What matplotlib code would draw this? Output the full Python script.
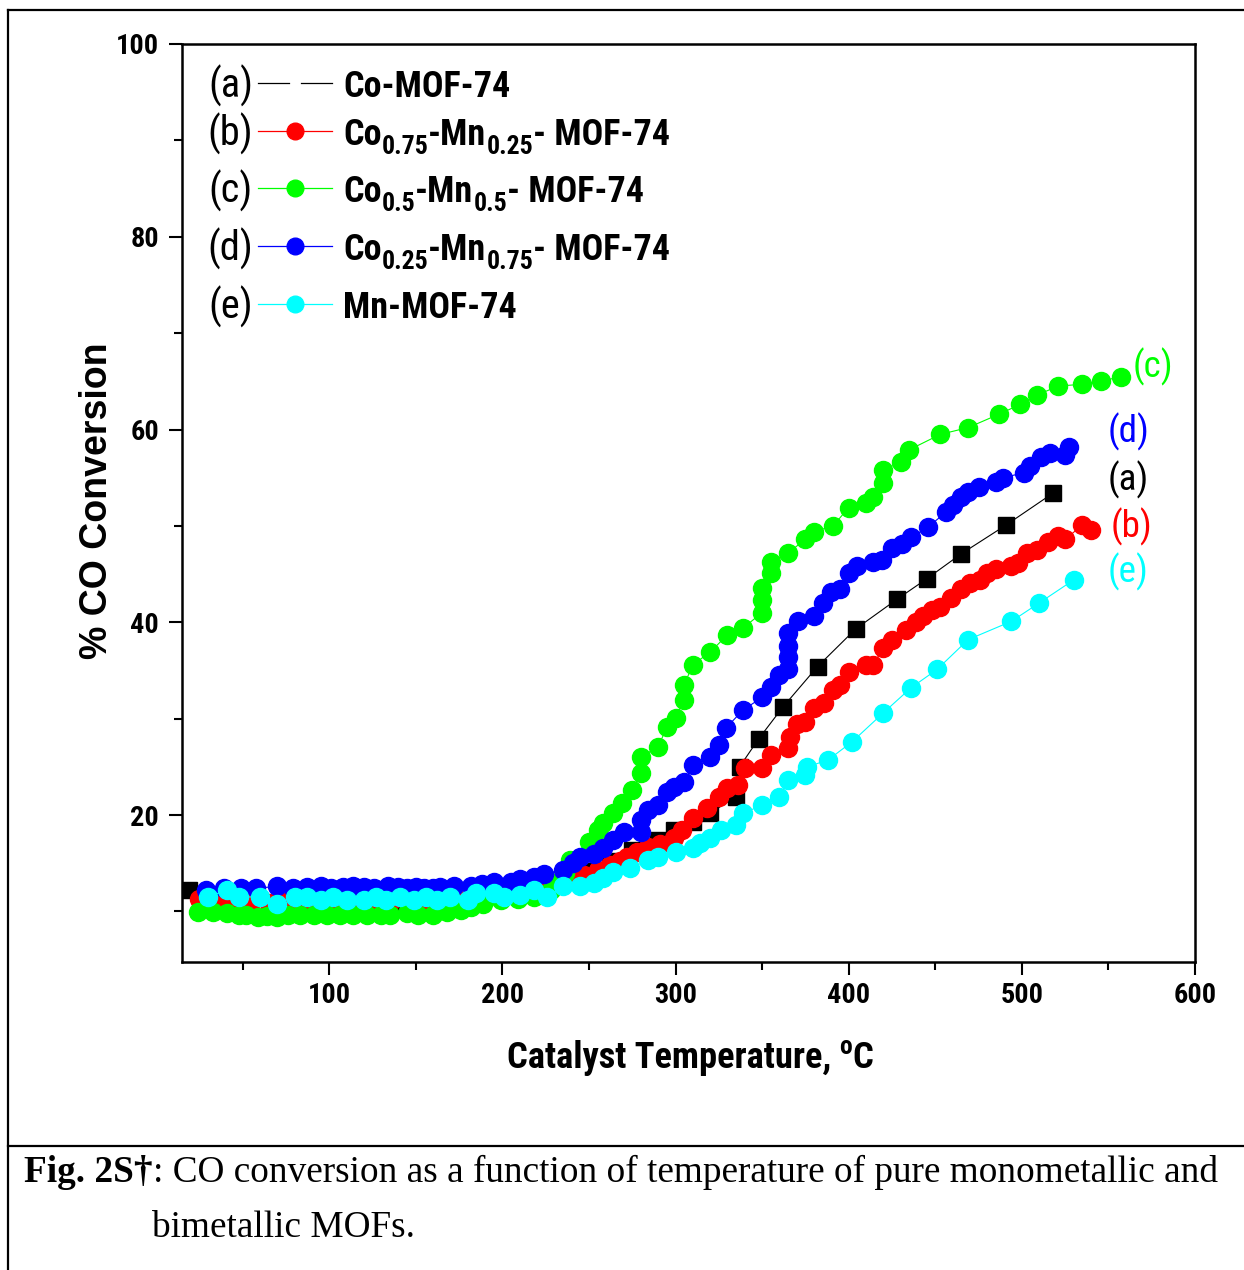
import matplotlib
matplotlib.use("Agg")
import matplotlib.pyplot as plt
from matplotlib import font_manager
from matplotlib.font_manager import FontProperties
from matplotlib.lines import Line2D
from matplotlib.ticker import MultipleLocator

# ---------------- data ----------------
x_a = [19, 65, 141, 200, 230, 250, 262, 275, 290, 299, 310, 320, 335, 337, 348, 362, 382, 404, 428, 445, 465, 491, 518]
y_a = [12.2, 10.5, 10.6, 12.0, 13.0, 14.2, 15.2, 16.4, 17.4, 18.4, 19.3, 20.2, 21.9, 25.0, 27.9, 31.2, 35.4, 39.3, 42.4, 44.5, 47.1, 50.1, 53.4]

x_b = [25, 35, 45, 55, 65, 75, 85, 95, 105, 115, 125, 135, 145, 155, 165, 175, 185, 195, 205, 215,
       222, 230, 238, 247, 255, 262, 268, 272, 278, 284, 291, 299, 304, 310, 318, 325, 330, 336, 340, 350,
       355, 365, 366, 370, 375, 380, 386, 391, 395, 400, 410, 414, 420, 425, 433, 439, 443, 448, 453, 459,
       465, 470, 476, 480, 485, 494, 498, 503, 509, 515, 521, 525, 535, 540]
y_b = [11.3, 11.2, 11.0, 11.0, 10.9, 11.0, 11.0, 11.0, 11.0, 11.0, 11.0, 11.0, 11.1, 11.0, 11.1, 11.2, 11.4, 11.7, 12.0, 12.3,
       12.5, 12.8, 13.3, 13.8, 14.3, 14.8, 15.2, 15.6, 16.2, 16.7, 17.0, 17.6, 18.4, 19.7, 20.7, 21.9, 22.8, 23.1, 24.9, 24.9,
       26.2, 27.0, 28.1, 29.4, 29.7, 31.1, 31.6, 33.0, 33.5, 34.8, 35.6, 35.6, 37.3, 38.2, 39.2, 40.0, 40.6, 41.3, 41.6, 42.5,
       43.4, 44.1, 44.4, 45.1, 45.5, 45.8, 46.2, 47.2, 47.5, 48.3, 48.9, 48.6, 50.1, 49.6]

x_c = [24, 33, 41, 48, 52, 59, 64, 70, 76, 83, 91, 99, 106, 114, 122, 130, 135, 145, 151, 160,
       168, 176, 182, 189, 199, 209, 218, 228, 232, 236, 239, 250, 255, 258, 264, 269, 275, 280, 280, 290,
       295, 300, 305, 305, 310, 320, 330, 339, 350, 350, 350, 355, 355, 365, 375, 380, 391, 400, 410, 414,
       420, 420, 430, 435, 453, 469, 487, 499, 509, 521, 535, 546, 557]
y_c = [9.95, 9.95, 9.8, 9.6, 9.6, 9.4, 9.5, 9.4, 9.6, 9.6, 9.6, 9.6, 9.6, 9.6, 9.6, 9.6, 9.6, 9.8, 9.6, 9.6,
       9.95, 10.1, 10.5, 10.8, 11.2, 11.3, 11.5, 12.2, 13.0, 14.0, 15.3, 17.2, 18.4, 19.2, 20.2, 21.2, 22.6, 24.4, 26.0, 27.1,
       29.1, 30.1, 31.9, 33.5, 35.6, 36.9, 38.7, 39.4, 41.0, 42.3, 43.6, 45.1, 46.3, 47.2, 48.6, 49.4, 50.0, 51.9, 52.4, 53.0,
       54.5, 55.8, 56.6, 57.9, 59.5, 60.2, 61.6, 62.6, 63.6, 64.5, 64.7, 65.0, 65.5]

x_d = [29, 39, 49, 58, 70, 79, 87, 95, 101, 108, 114, 120, 126, 134, 140, 145, 150, 155, 160, 164,
       172, 182, 188, 195, 205, 210, 218, 224, 235, 241,
       245, 253, 258, 264, 270, 280, 280, 284, 290, 295, 299, 305, 310, 320, 325, 329, 339, 350, 355, 360,
       365, 365, 365, 365, 371, 380, 385, 390, 395, 400, 405, 414, 419, 425, 431, 436, 446, 456, 460, 465,
       469, 475, 485, 489, 501, 505, 511, 516, 525, 527]
y_d = [12.2, 12.4, 12.4, 12.4, 12.6, 12.4, 12.5, 12.6, 12.4, 12.5, 12.6, 12.5, 12.4, 12.6, 12.5, 12.4, 12.5, 12.4, 12.4, 12.5,
       12.6, 12.6, 12.8, 13.1, 13.1, 13.4, 13.6, 13.9, 14.3, 15.0,
       15.6, 16.0, 16.6, 17.4, 18.2, 18.2, 19.5, 20.5, 21.0, 22.4, 22.9, 23.4, 25.2, 26.0, 27.3, 29.0, 30.9, 32.2, 33.3, 34.5,
       35.1, 36.4, 37.5, 38.9, 40.1, 40.6, 42.0, 43.1, 43.4, 45.1, 45.8, 46.3, 46.5, 47.7, 48.1, 48.8, 49.9, 51.4, 52.2, 53.0,
       53.5, 54.0, 54.6, 55.0, 55.5, 56.2, 57.1, 57.6, 57.4, 58.2]

x_e = [30, 41, 48, 60, 70, 80, 87, 95, 102, 110, 120, 127, 133, 141, 149, 156, 162, 170, 180, 185,
       195, 201, 210, 218, 226, 235, 245, 253,
       258, 264, 274, 284, 290, 300, 310, 314, 320, 326, 335, 339, 350, 360, 365, 375, 376, 388, 402, 420,
       436, 451, 469, 494, 510, 530]
y_e = [11.5, 12.2, 11.5, 11.5, 10.8, 11.5, 11.5, 11.2, 11.5, 11.2, 11.2, 11.5, 11.2, 11.5, 11.2, 11.5, 11.2, 11.5, 11.2, 11.9,
       11.9, 11.5, 11.7, 12.2, 11.5, 12.6, 12.6, 12.9,
       13.5, 14.1, 14.5, 15.3, 15.6, 16.2, 16.6, 17.1, 17.6, 18.4, 19.0, 20.2, 21.0, 21.9, 23.6, 24.2, 25.0, 25.7, 27.6, 30.6,
       33.2, 35.1, 38.2, 40.1, 42.0, 44.4]

tags = ["(a)", "(b)", "(c)", "(d)", "(e)"]
# legend names as (text, is_subscript) pieces
names = [[("Co-MOF-74", False)],
         [("Co", False), ("0.75", True), ("-Mn", False), ("0.25", True), ("- MOF-74", False)],
         [("Co", False), ("0.5", True), ("-Mn", False), ("0.5", True), ("- MOF-74", False)],
         [("Co", False), ("0.25", True), ("-Mn", False), ("0.75", True), ("- MOF-74", False)],
         [("Mn-MOF-74", False)]]
colors = ["#000000", "#FF0000", "#00FF00", "#0000FF", "#00FFFF"]
xticks = [100, 200, 300, 400, 500, 600]
yticks = [20, 40, 60, 80, 100]
xlabel_parts = ["Catalyst Temperature,", "o", "C"]
ylabel = "% CO Conversion"
caption_bold = "Fig. 2S\u2020"
caption_rest = ": CO conversion as a function of temperature of pure monometallic and"
caption_line2 = "bimetallic MOFs."

# ---------------- fonts ----------------
PREF = ["Liberation Sans Narrow", "Arial Narrow", "Roboto Condensed", "Open Sans Condensed",
        "Noto Sans Condensed", "Noto Sans", "Open Sans", "Roboto", "Inter", "DejaVu Sans"]


def pick_condensed(bold):
    cands = []
    for f in font_manager.fontManager.ttflist:
        nm, fn = f.name, f.fname
        cond = (str(f.stretch) in ("condensed", "semi-condensed", "extra-condensed", "ultra-condensed")
                or "Narrow" in nm or "Condensed" in nm or "Narrow" in fn or "Condensed" in fn)
        if not cond or f.style != "normal":
            continue
        w = f.weight if isinstance(f.weight, int) else {"bold": 700, "normal": 400, "regular": 400,
                                                        "medium": 500, "semibold": 600}.get(str(f.weight), 400)
        rank = next((i for i, p in enumerate(PREF) if nm.startswith(p)), len(PREF))
        sscore = 1 if ("ExtraCondensed" in fn or "SemiCondensed" in fn or "UltraCondensed" in fn) else 0
        cands.append((rank, abs(w - (700 if bold else 400)), sscore, fn, nm))
    if cands:
        cands.sort()
        return FontProperties(fname=cands[0][3])
    return FontProperties(family="DejaVu Sans", weight="bold" if bold else "normal")


FP_B = pick_condensed(True)
FP_R = pick_condensed(False)
avail = {f.name for f in font_manager.fontManager.ttflist}
SANS = "Liberation Sans" if "Liberation Sans" in avail else "DejaVu Sans"
SERIF = "Liberation Serif" if "Liberation Serif" in avail else "DejaVu Serif"


def fp(base, size):
    p = base.copy()
    p.set_size(size)
    return p


W, H = 1244, 1270
fig = plt.figure(figsize=(W / 100, H / 100), dpi=100)
fig.patch.set_facecolor("white")
renderer = fig.canvas.get_renderer()


def width_of(s, prop):
    t = fig.text(0, 0, s, fontproperties=prop)
    w = t.get_window_extent(renderer).width
    t.remove()
    return w


def fit_size(s, base, target_px, start=28.0):
    return start * target_px / width_of(s, fp(base, start))


L, R, T, B = 182, 1195, 44, 962
ax = fig.add_axes([L / W, 1 - B / H, (R - L) / W, (B - T) / H])

series = [(x_a, y_a), (x_b, y_b), (x_c, y_c), (x_d, y_d), (x_e, y_e)]
for i, ((xs, ys), c) in enumerate(zip(series, colors)):
    if i == 0:
        ax.plot(xs, ys, color=c, lw=0.8, marker="s", ms=11, mec=c, mfc=c, zorder=2 + i)
    else:
        ax.plot(xs, ys, color=c, lw=0.8, marker="o", ms=13, mec=c, mfc=c, zorder=2 + i)

ax.set_xlim(15, 600)
ax.set_ylim(4.75, 100)
tick_size = min(fit_size("200", FP_B, 43), 26)
ax.set_xticks(xticks)
ax.set_xticklabels([str(v) for v in xticks], fontproperties=fp(FP_B, tick_size))
ax.set_yticks(yticks)
ax.set_yticklabels([str(v) for v in yticks], fontproperties=fp(FP_B, tick_size))
ax.xaxis.set_minor_locator(MultipleLocator(50))
ax.yaxis.set_minor_locator(MultipleLocator(10))
ax.tick_params(which="major", direction="out", length=9.5, width=1.5, top=False, right=False)
ax.tick_params(which="minor", direction="out", length=5.8, width=1.5, top=False, right=False)
ax.tick_params(axis="x", which="major", pad=5)
ax.tick_params(axis="y", which="major", pad=7)
for sp in ax.spines.values():
    sp.set_linewidth(1.8)

ax.set_ylabel(ylabel, fontsize=27, fontweight="bold", family=SANS)
ax.yaxis.set_label_coords(-0.066, 0.503)


def rich(x_px, base_px, pieces, color="black", center=False):
    """pieces: (text, prop, dy_px, gap_px)."""
    objs = []
    x = x_px
    for s, prop, dy, gap in pieces:
        t = fig.text(x / W, 1 - (base_px + dy) / H, s, fontproperties=prop, color=color,
                     va="baseline", ha="left")
        bb = t.get_window_extent(renderer)
        x = bb.x1 + gap
        objs.append(t)
    if center:
        total = x - x_px
        for t in objs:
            t.set_x(t.get_position()[0] - total / 2 / W)
    return objs


# x label
xl_size = fit_size("Catalyst Temperature, oC", FP_B, 373)
rich(690, 1068, [(xlabel_parts[0], fp(FP_B, xl_size), 0, xl_size * 0.3),
                 (xlabel_parts[1], fp(FP_B, xl_size * 0.7), -xl_size * 0.55, 0),
                 (xlabel_parts[2], fp(FP_B, xl_size), 0, 0)], center=True)

# ---------------- legend (drawn manually) ----------------
def axx(px):
    return (px - L) / (R - L)


def axy(py):
    return (B - py) / (B - T)


leg_size = fit_size("Co-MOF-74", FP_B, 167)
tag_size = fit_size("(c)", FP_R, 37)
rows = [83, 131, 188, 246, 304]
for i, (tag, name, c) in enumerate(zip(tags, names, colors)):
    yy = axy(rows[i])
    fig.text(253 / W, 1 - (rows[i] + 15) / H, tag, fontproperties=fp(FP_R, tag_size * 1.2),
             va="baseline", ha="right")
    if i == 0:
        ax.plot([axx(258), axx(289)], [yy, yy], color=c, lw=0.9, transform=ax.transAxes, clip_on=False)
        ax.plot([axx(301), axx(332)], [yy, yy], color=c, lw=0.9, transform=ax.transAxes, clip_on=False)
    else:
        ax.plot([axx(258), axx(332)], [yy, yy], color=c, lw=0.9, transform=ax.transAxes, clip_on=False)
        ax.plot([axx(295)], [yy], marker="o", ms=12, color=c, transform=ax.transAxes, clip_on=False)
    pieces = []
    for s, sub in name:
        if sub:
            pieces.append((s, fp(FP_B, leg_size * 0.72), leg_size * 0.36, 0))
        else:
            pieces.append((s, fp(FP_B, leg_size), 0, 0))
    rich(343, rows[i] + 14, pieces)

# ---------------- curve tags on the right ----------------
tag_pos = {"(c)": (1133, 367), "(d)": (1108, 432), "(a)": (1108, 480), "(b)": (1111, 527), "(e)": (1108, 572)}
tag_col = dict(zip(tags, colors))
for t, (px, py) in tag_pos.items():
    ax.text(axx(px), axy(py), t, transform=ax.transAxes, fontproperties=fp(FP_R, tag_size * 1.1),
            color=tag_col[t], va="center", ha="left")

# ---------------- frame lines ----------------
lw_frame = 1.6
fig.add_artist(Line2D([8 / W, 1.0], [1 - 10 / H, 1 - 10 / H], transform=fig.transFigure, color="black", lw=lw_frame))
fig.add_artist(Line2D([8 / W, 8 / W], [1 - 10 / H, 0.0], transform=fig.transFigure, color="black", lw=lw_frame))
fig.add_artist(Line2D([8 / W, 1.0], [1 - 1146 / H, 1 - 1146 / H], transform=fig.transFigure, color="black", lw=lw_frame))

# ---------------- caption ----------------
size = 26
t1 = fig.text(24 / W, 1 - 1182 / H, caption_bold, family=[SERIF, "DejaVu Serif"], fontweight="bold",
              fontsize=size, va="baseline", ha="left")
t2 = fig.text(0, 1 - 1182 / H, caption_rest, family=[SERIF, "DejaVu Serif"], fontsize=size, va="baseline", ha="left")
for _ in range(3):
    bb1 = t1.get_window_extent(renderer)
    t2.set_x(bb1.x1 / W)
    bb2 = t2.get_window_extent(renderer)
    size = size * (1217 - 24) / (bb2.x1 - bb1.x0)
    t1.set_fontsize(size)
    t2.set_fontsize(size)
bb1 = t1.get_window_extent(renderer)
t2.set_x(bb1.x1 / W)
fig.text(152 / W, 1 - 1237 / H, caption_line2, family=[SERIF, "DejaVu Serif"], fontsize=size,
         va="baseline", ha="left")

fig.savefig("out.png", dpi=100, facecolor="white")
